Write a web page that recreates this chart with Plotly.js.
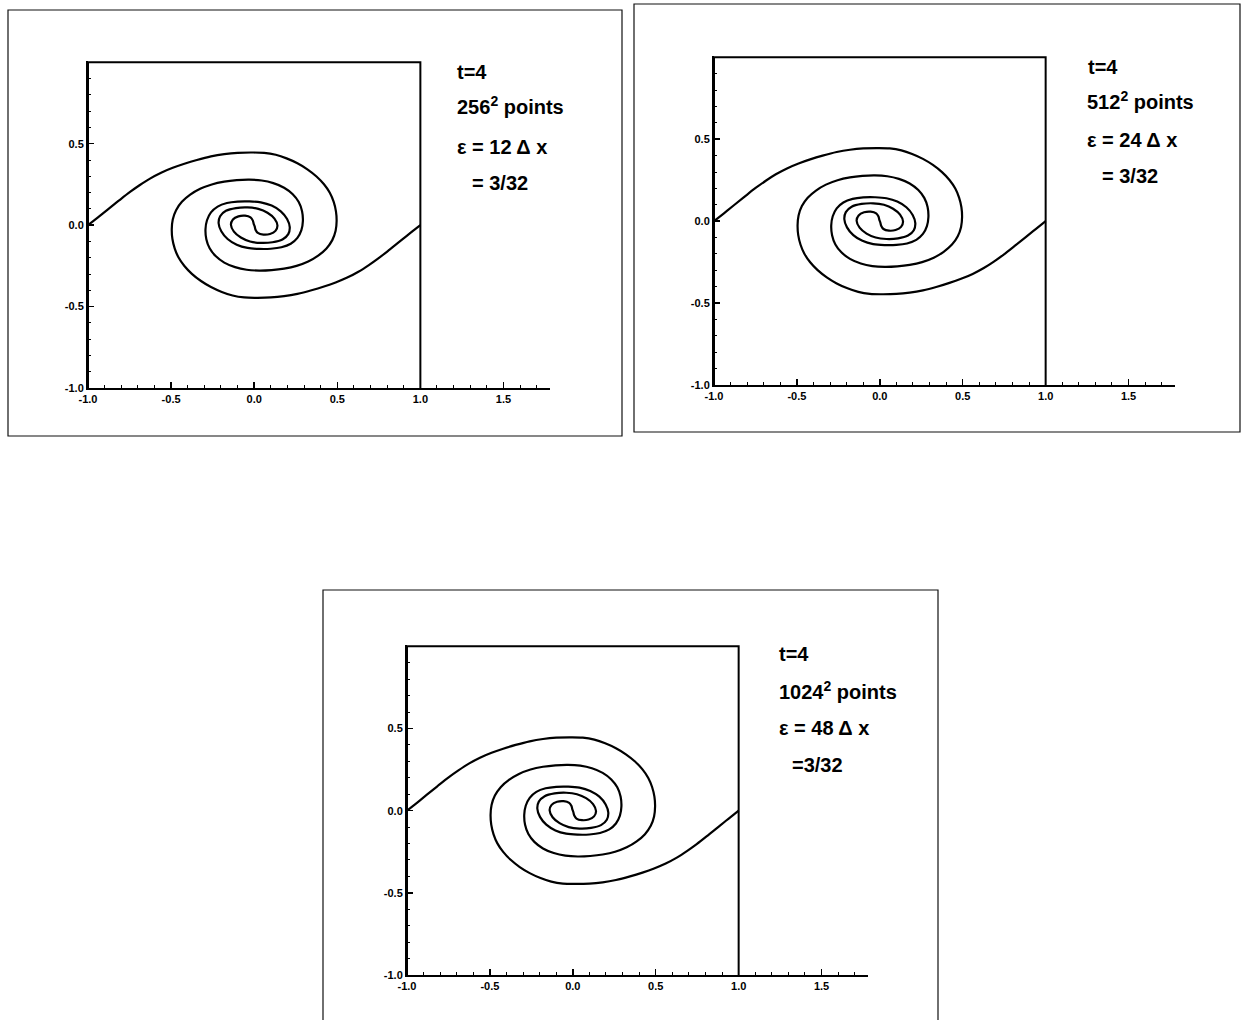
<!DOCTYPE html>
<html>
<head>
<meta charset="utf-8">
<script src="https://cdn.plot.ly/plotly-3.0.1.min.js"></script>
<style>
  html, body { margin: 0; padding: 0; background: #ffffff; }
  #chart { width: 1243px; height: 1020px; }
</style>
</head>
<body>
<div id="chart"></div>
<script>
// ---- data (vortex sheet at t=4, one continuous curve from (-1,0) to (1,0)) ----
const spiralX = [
  -1.000, -0.940, -0.880, -0.815, -0.747, -0.690, -0.627, -0.560, -0.490, -0.420,
  -0.345, -0.260, -0.180, -0.100, -0.020, 0.060, 0.130, 0.195, 0.260, 0.320,
  0.375, 0.420, 0.455, 0.478, 0.492, 0.496, 0.490, 0.470, 0.435, 0.385,
  0.325, 0.255, 0.180, 0.105, 0.030, -0.045, -0.115, -0.180, -0.232, -0.268,
  -0.288, -0.293, -0.284, -0.260, -0.220, -0.164, -0.100, -0.030, 0.040, 0.105,
  0.160, 0.198, 0.214, 0.205, 0.170, 0.110, 0.040, -0.025, -0.080, -0.122,
  -0.140, -0.128, -0.095, -0.055, -0.022, -0.008, -0.003,
  0.003, 0.008, 0.022, 0.055, 0.095, 0.128, 0.140, 0.122, 0.080, 0.025,
  -0.040, -0.110, -0.170, -0.205, -0.214, -0.198, -0.160, -0.105, -0.040, 0.030,
  0.100, 0.164, 0.220, 0.260, 0.284, 0.293, 0.288, 0.268, 0.232, 0.180,
  0.115, 0.045, -0.030, -0.105, -0.180, -0.255, -0.325, -0.385, -0.435, -0.470,
  -0.490, -0.496, -0.492, -0.478, -0.455, -0.420, -0.375, -0.320, -0.260, -0.195,
  -0.130, -0.060, 0.020, 0.100, 0.180, 0.260, 0.345, 0.420, 0.490, 0.560,
  0.627, 0.690, 0.747, 0.815, 0.880, 0.940, 1.000
];
const spiralY = [
  0.000, 0.048, 0.097, 0.150, 0.204, 0.245, 0.286, 0.322, 0.352, 0.377,
  0.400, 0.422, 0.436, 0.444, 0.446, 0.444, 0.432, 0.410, 0.380, 0.343,
  0.299, 0.251, 0.199, 0.144, 0.085, 0.025, -0.035, -0.092, -0.143, -0.187,
  -0.223, -0.250, -0.267, -0.276, -0.279, -0.274, -0.258, -0.230, -0.190, -0.142,
  -0.086, -0.025, 0.030, 0.078, 0.114, 0.136, 0.145, 0.146, 0.140, 0.120,
  0.085, 0.038, -0.012, -0.055, -0.088, -0.105, -0.109, -0.100, -0.076, -0.040,
  0.002, 0.035, 0.054, 0.058, 0.048, 0.028, 0.008,
  -0.008, -0.028, -0.048, -0.058, -0.054, -0.035, -0.002, 0.040, 0.076, 0.100,
  0.109, 0.105, 0.088, 0.055, 0.012, -0.038, -0.085, -0.120, -0.140, -0.146,
  -0.145, -0.136, -0.114, -0.078, -0.030, 0.025, 0.086, 0.142, 0.190, 0.230,
  0.258, 0.274, 0.279, 0.276, 0.267, 0.250, 0.223, 0.187, 0.143, 0.092,
  0.035, -0.025, -0.085, -0.144, -0.199, -0.251, -0.299, -0.343, -0.380, -0.410,
  -0.432, -0.444, -0.446, -0.444, -0.436, -0.422, -0.400, -0.377, -0.352, -0.322,
  -0.286, -0.245, -0.204, -0.150, -0.097, -0.048, 0.000
];
// box of the periodic domain [-1,1]x[-1,1]
const boxX = [-1, -1, 1, 1];
const boxY = [-1, 1, 1, -1];
// tick labels
const xTickVals = [-1, -0.5, 0, 0.5, 1, 1.5];
const xTickText = ['-1.0', '-0.5', '0.0', '0.5', '1.0', '1.5'];
const yTickVals = [-1, -0.5, 0, 0.5];
const yTickText = ['-1.0', '-0.5', '0.0', '0.5'];
// panel texts
const panelTime = ['t=4', 't=4', 't=4'];
const panelGrid = ['256', '512', '1024'];
const panelEps = ['12', '24', '48'];
const panelRatio = ['= 3/32', '= 3/32', '=3/32'];

// ---- layout helpers (pixel positions of the scanned figure) ----
const W = 1243, H = 1020;
const px = v => v / W;
const py = v => 1 - v / H;

const panels = [
  { xd: [88, 550], yd: [388, 61], frame: [8, 10, 622, 436], txt: [[455, 72], [455, 106], [455, 147], [470, 183]] },
  { xd: [714, 1175], yd: [385, 56], frame: [634, 4, 1240, 432], txt: [[1086, 67], [1085, 101], [1085, 140], [1100, 176]] },
  { xd: [407, 868], yd: [975, 645], frame: [323, 590, 938, 1024], txt: [[777, 654], [777, 690], [777, 728], [790, 765]] }
];

const tickFont = { family: 'Liberation Sans, Arial, sans-serif', size: 11, color: '#000', weight: 'bold' };
const txtFont = { family: 'Liberation Sans, Arial, sans-serif', size: 20, color: '#000', weight: 'bold' };

const traces = [];
const layout = {
  width: W, height: H,
  margin: { l: 0, r: 0, t: 0, b: 0 },
  paper_bgcolor: '#ffffff', plot_bgcolor: 'rgba(0,0,0,0)',
  showlegend: false,
  shapes: [], annotations: []
};

panels.forEach((p, i) => {
  const n = i === 0 ? '' : String(i + 1);
  const xa = 'x' + n, ya = 'y' + n;
  traces.push({
    type: 'scatter', mode: 'lines', x: boxX, y: boxY, xaxis: xa, yaxis: ya,
    line: { color: '#000', width: 2 }, hoverinfo: 'skip'
  });
  traces.push({
    type: 'scatter', mode: 'lines', x: spiralX, y: spiralY, xaxis: xa, yaxis: ya,
    line: { color: '#000', width: 2.2, shape: 'spline', smoothing: 1 }, hoverinfo: 'skip'
  });
  layout['xaxis' + n] = {
    domain: [px(p.xd[0]), px(p.xd[1])], anchor: ya,
    range: [-1, 1.78], showgrid: false, zeroline: false,
    showline: true, linecolor: '#000', linewidth: 2,
    ticks: 'inside', ticklen: 6, tickwidth: 1.5, tickcolor: '#000',
    tickmode: 'array', tickvals: xTickVals, ticktext: xTickText,
    tickfont: tickFont, fixedrange: true,
    minor: { tickmode: 'linear', tick0: -1, dtick: 0.1, ticks: 'inside', ticklen: 3, tickwidth: 1, tickcolor: '#000', showgrid: false }
  };
  layout['yaxis' + n] = {
    domain: [py(p.yd[0]), py(p.yd[1])], anchor: xa,
    range: [-1, 1.008], showgrid: false, zeroline: false,
    showline: true, linecolor: '#000', linewidth: 2,
    ticks: 'inside', ticklen: 6, tickwidth: 1.5, tickcolor: '#000',
    tickmode: 'array', tickvals: yTickVals, ticktext: yTickText,
    tickfont: tickFont, fixedrange: true,
    minor: { tickmode: 'linear', tick0: -1, dtick: 0.1, ticks: 'inside', ticklen: 3, tickwidth: 1, tickcolor: '#000', showgrid: false }
  };
  const f = p.frame;
  layout.shapes.push({
    type: 'rect', xref: 'paper', yref: 'paper',
    x0: px(f[0]), x1: px(f[2]), y0: py(f[3]), y1: py(f[1]),
    line: { color: '#111', width: 1.2 }, fillcolor: 'rgba(0,0,0,0)', layer: 'below'
  });
  const texts = [
    panelTime[i],
    panelGrid[i] + '<sup>2</sup> points',
    'ε = ' + panelEps[i] + ' Δ x',
    panelRatio[i]
  ];
  texts.forEach((t, k) => {
    layout.annotations.push({
      xref: 'paper', yref: 'paper', x: px(p.txt[k][0]), y: py(p.txt[k][1]),
      xanchor: 'left', yanchor: 'middle', showarrow: false, text: t, font: txtFont
    });
  });
});

Plotly.newPlot('chart', traces, layout, { staticPlot: true, displayModeBar: false });
</script>
</body>
</html>
